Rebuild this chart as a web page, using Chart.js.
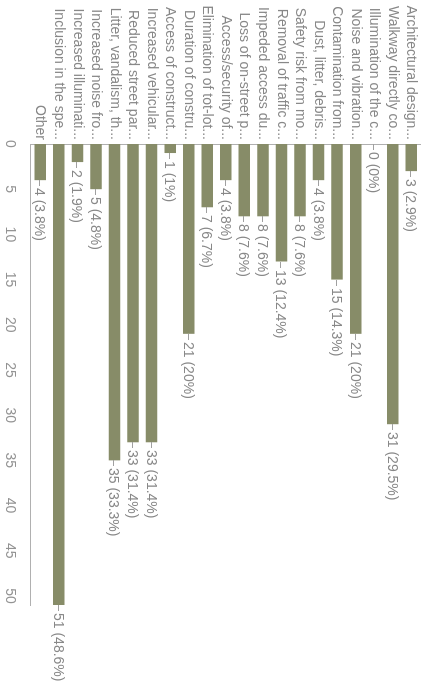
<!DOCTYPE html>
<html>
<head>
<meta charset="utf-8">
<script src="https://cdn.jsdelivr.net/npm/chart.js@4/dist/chart.umd.min.js"></script>
<style>
  html, body { margin: 0; padding: 0; background: #ffffff; overflow: hidden; }
  /* the horizontal bar chart is laid out 692x433 and turned a quarter clockwise */
  #wrap {
    position: absolute; left: 433px; top: 0;
    width: 692px; height: 433px;
    transform-origin: 0 0; transform: rotate(90deg);
  }
  canvas { display: block; }
</style>
</head>
<body>
<div id="wrap"><canvas id="c" width="692" height="433"></canvas></div>
<script>
const categories = [
  'Architectural design...',
  'Walkway directly co...',
  'Illumination of the c...',
  'Noise and vibration...',
  'Contamination from...',
  'Dust, litter, debris...',
  'Safety risk from mo...',
  'Removal of traffic c...',
  'Impeded access du...',
  'Loss of on-street p...',
  'Access/security of...',
  'Elimination of tot-lot...',
  'Duration of constru...',
  'Access of construct...',
  'Increased vehicular...',
  'Reduced street par...',
  'Litter, vandalism, th...',
  'Increased noise fro...',
  'Increased illuminati...',
  'Inclusion in the spe...',
  'Other'
];
const counts   = [3, 31, 0, 21, 15, 4, 8, 13, 8, 8, 4, 7, 21, 1, 33, 33, 35, 5, 2, 51, 4];
const percents = [2.9, 29.5, 0, 20, 14.3, 3.8, 7.6, 12.4, 7.6, 7.6, 3.8, 6.7, 20, 1, 31.4, 31.4, 33.3, 4.8, 1.9, 48.6, 3.8];
const valueTicks = [0, 5, 10, 15, 20, 25, 30, 35, 40, 45, 50];

const FONT = '"Liberation Sans", Arial, Helvetica, sans-serif';

// "n (p%)" label with a short leader line at the end of each bar
const valueLabels = {
  id: 'valueLabels',
  afterDatasetsDraw(chart) {
    const ctx = chart.ctx;
    const meta = chart.getDatasetMeta(0);
    ctx.save();
    ctx.font = '14px ' + FONT;
    ctx.textBaseline = 'middle';
    ctx.textAlign = 'left';
    meta.data.forEach((bar, i) => {
      const x = Math.round(bar.x);
      const y = Math.round(bar.y);
      ctx.strokeStyle = '#a0a0a0';
      ctx.lineWidth = 1;
      ctx.beginPath();
      ctx.moveTo(x, y + 0.5);
      ctx.lineTo(x + 6, y + 0.5);
      ctx.stroke();
      ctx.fillStyle = '#888888';
      ctx.fillText(counts[i] + ' (' + percents[i] + '%)', x + 8, y + 1);
    });
    ctx.restore();
  }
};

new Chart(document.getElementById('c'), {
  type: 'bar',
  data: {
    labels: categories,
    datasets: [{
      data: counts,
      backgroundColor: '#878c68',
      borderWidth: 0,
      barPercentage: 0.62,
      categoryPercentage: 1
    }]
  },
  options: {
    indexAxis: 'y',
    responsive: false,
    animation: false,
    devicePixelRatio: 1,
    layout: { padding: { top: 12, right: 87, bottom: 0, left: 0 } },
    plugins: { legend: { display: false }, tooltip: { enabled: false } },
    scales: {
      x: {
        type: 'linear',
        min: 0,
        max: 51,
        afterBuildTicks: s => { s.ticks = valueTicks.map(v => ({ value: v })); },
        afterFit: s => { s.height = 31; },
        grid: { display: false, drawTicks: false },
        border: { display: true, color: '#b0b0b0', width: 1 },
        ticks: {
          padding: 13,
          maxRotation: 0,
          color: '#939393',
          font: { family: FONT, size: 14 }
        }
      },
      y: {
        type: 'category',
        afterFit: s => { s.width = 144; },
        grid: { display: false, drawTicks: false },
        border: { display: true, color: '#b0b0b0', width: 1 },
        ticks: {
          autoSkip: false,
          padding: 4,
          color: '#888888',
          font: { family: FONT, size: 14 }
        }
      }
    }
  },
  plugins: [valueLabels]
});
</script>
</body>
</html>
